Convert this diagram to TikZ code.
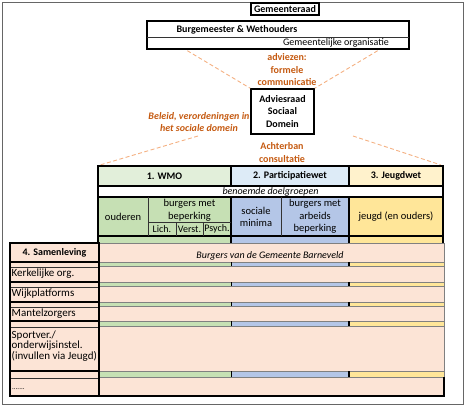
\documentclass[tikz,border=0pt]{standalone}
\usepackage{fontspec}
\setmainfont{Carlito}
\usetikzlibrary{calc}
\definecolor{wmoL}{HTML}{E2EFDA}
\definecolor{parL}{HTML}{DDEBF7}
\definecolor{jeuL}{HTML}{FFF2CC}
\definecolor{wmoM}{HTML}{C6E0B4}
\definecolor{parM}{HTML}{B4C6E7}
\definecolor{jeuM}{HTML}{FFE699}
\definecolor{peach}{HTML}{FCE4D6}
\definecolor{odash}{HTML}{F4B183}
\definecolor{otext}{HTML}{C55A11}
\tikzset{
 thickbox/.style={draw=black, line width=1.4pt, inner sep=0pt},
 txt/.style={font=\fontsize{10.5}{12.5}\selectfont, inner sep=0pt},
 ltxt/.style={font=\fontsize{11}{12.5}\selectfont, inner sep=0pt, anchor=west},
 btxt/.style={inner sep=0pt, font=\fontsize{10}{12.8}\selectfont\bfseries},
 itxt/.style={inner sep=0pt, font=\fontsize{10}{12.5}\selectfont\itshape},
 otxt/.style={btxt, text=otext, align=center},
 od/.style={draw=odash, line width=0.9pt, dash pattern=on 4pt off 2.5pt},
 thk/.style={line width=1.3pt, black},
 thn/.style={line width=0.5pt, black!80},
 gln/.style={line width=0.6pt, black!50},
}
\begin{document}
\begin{tikzpicture}[x=1pt,y=-1pt]
\useasboundingbox (0,0) rectangle (468,417);
% outer frame
\draw[line width=0.8pt, black!60] (2,2) rectangle (463,404);

% top boxes
\node[thickbox, minimum width=68, minimum height=12, btxt] (gr) at (285,9) {Gemeenteraad};
\node[thickbox, minimum width=262, minimum height=28] (bw) at (278,35) {};
\draw[thn] ($(bw.west)+(1,2)$) -- ($(bw.east)+(-1,2)$);
\node[btxt] (bwt) at (237,30) {Burgemeester \& Wethouders};
\node[txt, font=\fontsize{10}{12}\selectfont] (go) at (336,43) {Gemeentelijke organisatie};

\node[thickbox, minimum width=63, minimum height=45, btxt, align=center] (adv) at (282.5,111.5) {Adviesraad\\Sociaal\\Domein};

\node[otxt, font=\fontsize{10}{12.5}\selectfont\bfseries] (adz) at (287,70) {adviezen:\\formele\\communicatie};
\node[otxt, font=\fontsize{10}{12}\selectfont\bfseries\itshape] (bel) at (199,122) {Beleid, verordeningen in\\het sociale domein};
\node[otxt, font=\fontsize{10}{13}\selectfont\bfseries] (ach) at (282,152.5) {Achterban\\consultatie};

% dashed connectors
\draw[od] ($(bw.south west)+(41,1)$) -- (adv.north west);
\draw[od] ($(bw.south east)+(-32,1)$) -- (adv.north east);
\coordinate (l1) at (198,136);
\coordinate (r1) at (353,136);
\coordinate (tl) at (100,165);
\coordinate (tr) at (441,165);
\draw[od] (l1) -- (tl);
\draw[od] (r1) -- (tr);

% upper table fills
\fill[wmoL] (98,166) rectangle (231,186);
\fill[parL] (231,166) rectangle (349,186);
\fill[jeuL] (349,166) rectangle (443,186);
\fill[white] (98,186) rectangle (443,197);
\fill[wmoM] (98,197) rectangle (231,243);
\fill[parM] (231,197) rectangle (349,243);
\fill[jeuM] (349,197) rectangle (443,243);

% lower table fills
\fill[peach] (10,243) rectangle (99,396);
\fill[peach] (99,243) rectangle (444,396);
\foreach \ya/\yb in {262/266, 282/286, 302/306, 321/326, 371/377}{
  \fill[wmoM] (99,\ya) rectangle (231,\yb);
  \fill[parM] (231,\ya) rectangle (349,\yb);
  \fill[jeuM] (349,\ya) rectangle (444,\yb);
  \draw[gln] (99,\ya) -- (444,\ya);
  \draw[gln] (99,\yb) -- (444,\yb);
  \draw[line width=0.8pt] (231,\ya) -- (231,\yb);
  \draw[line width=1.3pt] (349,\ya) -- (349,\yb);
  \draw[thk] (10,\ya) -- (99,\ya);
  \draw[thn] (10,\yb+1) -- (99,\yb+1);
}
\draw[gln] (99,243) -- (444,243) -- (444,377);

% upper table lines
\draw[thk] (98,243) -- (98,166) -- (443,166) -- (443,243);
\draw[thk] (98,186) -- (443,186);
\draw[thk] (98,197) -- (443,197);
\draw[thk] (98,236) -- (443,236);
\draw[thk] (231,166) -- (231,186);
\draw[thk] (349,166) -- (349,186);
\draw[thk] (231,197) -- (231,243);
\draw[thk] (349,197) -- (349,243);
\draw[thn] (148,197) -- (148,236);
\draw[thn] (148,222) -- (231,222);
\draw[thn] (176,222) -- (176,236);
\draw[thn] (203,222) -- (203,236);
\draw[thn] (281,197) -- (281,236);

% lower table borders
\draw[thk] (10,243) rectangle (99,396);
\draw[thk] (99,396) -- (444,396) -- (444,377);

% upper table texts
\node[btxt] (tw) at (164.5,176) {1. WMO};
\node[btxt] (tp) at (290,176) {2. Participatiewet};
\node[btxt] (tj) at (396,176) {3. Jeugdwet};
\node[itxt] (bd) at (270.5,191.5) {benoemde doelgroepen};
\node[txt] (oud) at (123,217) {ouderen};
\node[txt, align=center] (bmb) at (189.5,210.5) {burgers met\\beperking};
\node[txt, font=\fontsize{10}{12}\selectfont] (li) at (162,229) {Lich.};
\node[txt, font=\fontsize{10}{12}\selectfont] (ve) at (189.5,229) {Verst.};
\node[txt, font=\fontsize{10}{12}\selectfont] (ps) at (217,229) {Psych.};
\node[txt, align=center] (sm) at (256,217) {sociale\\minima};
\node[txt, align=center] (bab) at (315,216.5) {burgers met\\arbeids\\beperking};
\node[txt] (jo) at (396,217) {jeugd (en ouders)};

% lower table texts
\node[btxt] (sam) at (54.5,253) {4. Samenleving};
\node[itxt] (bvg) at (270,256) {Burgers van de Gemeente Barneveld};
\node[ltxt] (ker) at (11.5,274) {Kerkelijke org.};
\node[ltxt] (wij) at (11.5,294) {Wijkplatforms};
\node[ltxt] (man) at (11.5,313.5) {Mantelzorgers};
\node[ltxt, align=left, font=\fontsize{11}{10.8}\selectfont] (spo) at (11.5,346) {Sportver./\\onderwijsinstel.\\(invullen via Jeugd)};
\node[ltxt, font=\fontsize{7}{8}\selectfont] (dots) at (12,389.5) {.......};
\end{tikzpicture}
\end{document}
